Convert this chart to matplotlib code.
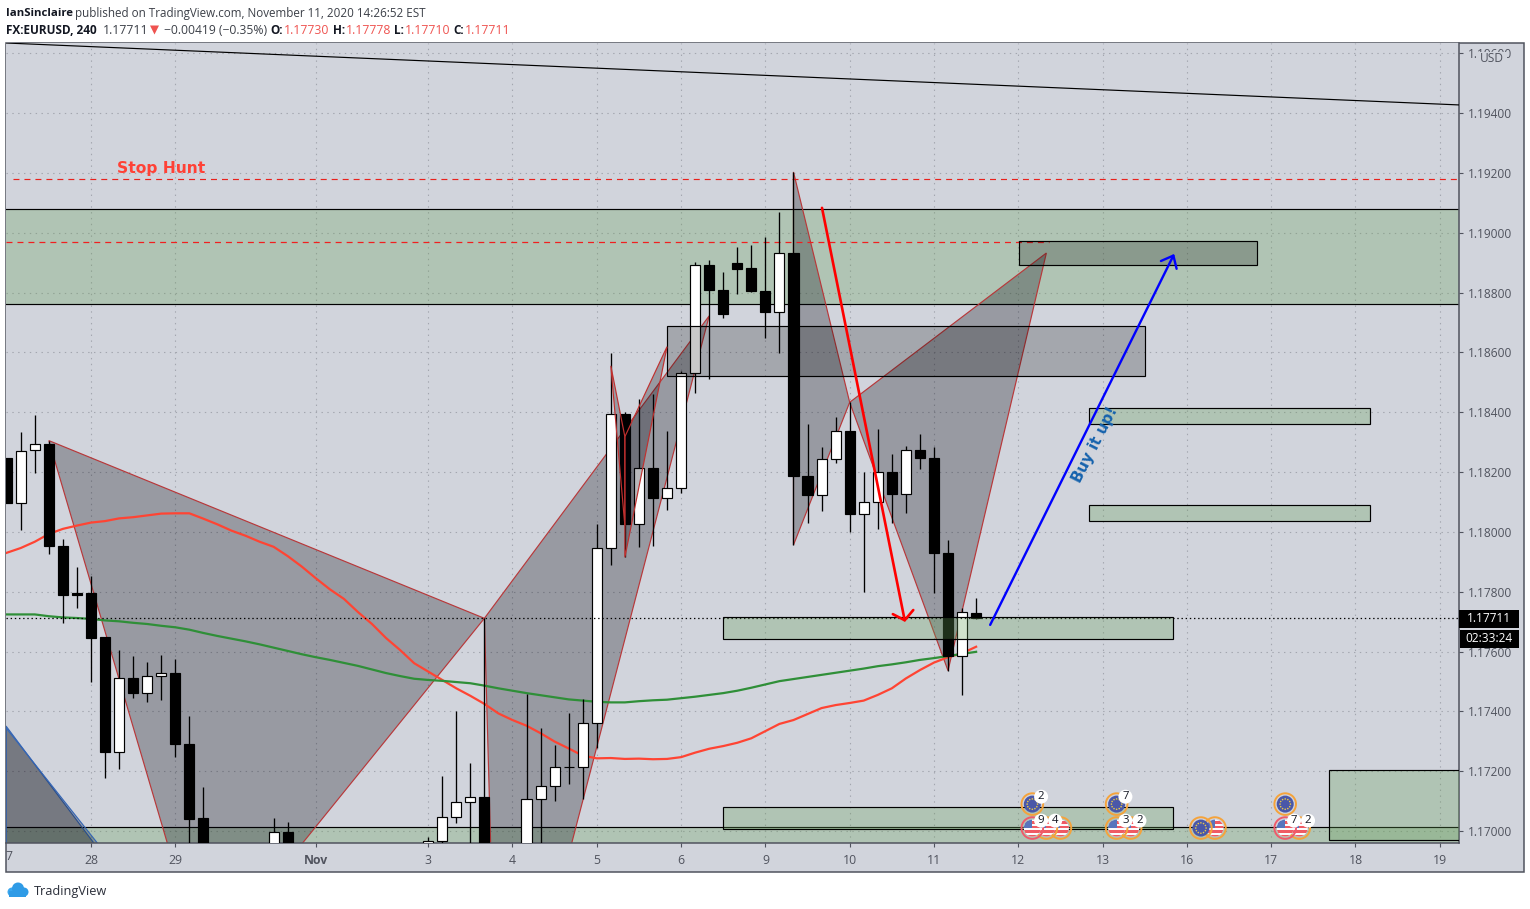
#coding: UTF-8
import numpy as np
import matplotlib as mpl
mpl.use('Agg')
import matplotlib.pyplot as plt
from matplotlib.patches import Rectangle, Polygon, Circle
from matplotlib.transforms import IdentityTransform

plt.rcParams['font.family'] = ['Open Sans', 'DejaVu Sans']
plt.rcParams['lines.scale_dashes'] = False

# candles, bar 0 is the start of Oct 28 (4h bars). bars under the chart floor are left out
bars = [-6,-5,-4,-3,-2,-1,0,1,2,3,4,5,6,7,8,13,14,24,25,26,27,28,31,32,33,34,35,36,37,38,39,40,41,42,43,44,45,46,47,48,49,50,51,52,53,54,55,56,57,58,59,60,61,62,63]
opens = [1.18247,1.18096,1.18272,1.18293,1.17954,1.17796,1.17795,1.17649,1.17265,1.1751,1.17462,1.17517,1.17527,1.17292,1.17043,1.1685,1.16996,1.1685,1.16968,1.17046,1.17096,1.17113,1.1680,1.17106,1.17149,1.17213,1.17214,1.1736,1.17945,1.18393,1.18027,1.18212,1.18114,1.18146,1.1853,1.18892,1.1881,1.18899,1.18882,1.18806,1.18736,1.18931,1.18188,1.18124,1.18243,1.18337,1.18061,1.18099,1.18199,1.18128,1.18273,1.18248,1.1793,1.17586,1.1773]
highs = [1.18247,1.18333,1.18391,1.18305,1.17975,1.17882,1.17852,1.17649,1.17605,1.17585,1.17565,1.17588,1.17575,1.17384,1.17147,1.17043,1.1703,1.16979,1.17184,1.17401,1.17227,1.17711,1.17458,1.17344,1.17287,1.17394,1.1744,1.18026,1.18598,1.184,1.18444,1.18461,1.18337,1.18538,1.18901,1.18909,1.18869,1.18951,1.18959,1.18985,1.19069,1.19203,1.18361,1.18283,1.18384,1.18433,1.18199,1.18344,1.1826,1.18287,1.18327,1.18284,1.17973,1.17745,1.17778]
lows = [1.18096,1.18006,1.18198,1.17926,1.17696,1.17746,1.17499,1.17178,1.17208,1.17446,1.17432,1.17438,1.17248,1.169,1.168,1.168,1.168,1.168,1.169,1.17028,1.169,1.1675,1.1675,1.169,1.17101,1.17158,1.17108,1.17277,1.1789,1.17915,1.1795,1.17954,1.18073,1.18131,1.18465,1.18512,1.18716,1.18796,1.18803,1.18649,1.18599,1.17956,1.18031,1.18071,1.18231,1.18001,1.17799,1.1801,1.18031,1.18064,1.18211,1.17797,1.17536,1.17455,1.1771]
closes = [1.18096,1.18271,1.18293,1.17954,1.1779,1.1779,1.17646,1.17265,1.1751,1.17462,1.17517,1.17527,1.17292,1.17041,1.1685,1.16996,1.1685,1.16968,1.17046,1.17096,1.17113,1.168,1.17106,1.17149,1.17213,1.17214,1.1736,1.17945,1.18393,1.18027,1.18212,1.18114,1.18146,1.1853,1.18892,1.1881,1.18729,1.1888,1.18806,1.18736,1.18931,1.18188,1.18124,1.18243,1.18336,1.18061,1.18099,1.18199,1.18128,1.18273,1.18248,1.1793,1.17586,1.17731,1.17711]

# moving averages, one value per bar from bar -6 to bar 63
ma_bars = list(range(-6, 64))
ma_red = [1.1793,1.17946,1.17967,1.17993,1.1801,1.18021,1.18031,1.18036,1.18045,1.18049,1.18055,1.18061,1.18062,1.18062,1.18044,1.18025,1.18004,1.17987,1.17967,1.1795,1.17919,1.17884,1.17845,1.17808,1.17776,1.17732,1.17692,1.17645,1.17605,1.17561,1.17533,1.17505,1.17477,1.17452,1.17425,1.17393,1.17371,1.17352,1.17327,1.17299,1.17276,1.17252,1.17243,1.17244,1.17241,1.17242,1.1724,1.17241,1.17247,1.17262,1.17275,1.17284,1.17295,1.1731,1.17334,1.17358,1.17371,1.17391,1.17411,1.17421,1.17428,1.17436,1.17455,1.17477,1.1751,1.17538,1.17563,1.17581,1.17594,1.17616]
ma_green = [1.17724,1.17724,1.17724,1.17718,1.17714,1.17712,1.17709,1.17704,1.17701,1.17696,1.17692,1.17686,1.17681,1.17673,1.17662,1.17652,1.17643,1.17634,1.17624,1.17613,1.17602,1.17591,1.17581,1.17572,1.17562,1.17552,1.1754,1.17528,1.17518,1.17509,1.17505,1.17502,1.17498,1.17494,1.17486,1.17477,1.17469,1.17461,1.17454,1.17447,1.1744,1.17436,1.17432,1.1743,1.1743,1.17434,1.17437,1.17439,1.17444,1.17449,1.17455,1.17461,1.17469,1.17479,1.1749,1.17501,1.17508,1.17515,1.17522,1.17529,1.17536,1.17543,1.17551,1.17557,1.17564,1.17572,1.17578,1.17585,1.17592,1.17599]

# harmonic patterns (bar, price)
left_pattern = [[(-3,1.18305),(8,1.1655),(28,1.17711)]]
mid_pattern = [[(28,1.17711),(29,1.1602),(44,1.18722)]]
thin_pattern = [[(37,1.18555),(38,1.1802),(38,1.18318)],[(38,1.18318),(41,1.18619),(38,1.17915)]]
right_pattern = [[(50,1.19203),(50,1.17956),(54,1.18433)],[(54,1.18433),(61,1.17536),(68,1.18932)]]
blue_pattern = [[(-6.05,1.17351),(0.2,1.1696),(-6.05,1.1690)],[(-6.05,1.17345),(0.45,1.1696),(-6.05,1.1690)]]

# zones: bar start, bar end, price low, price high
green_zones = [(-10,110,1.18762,1.19079),(-10,110,1.1690,1.17013),(71,91,1.18361,1.18414),(71,91,1.18036,1.1809),(45,77,1.17642,1.17715),(45,77,1.17007,1.1708),(88.1,110,1.1697,1.17204)]
grey_zones = [(41,75,1.1852,1.18687),(66.05,83,1.18892,1.18972)]

trend_x = [-6.05, 97.37]
trend_y = [1.19634, 1.19427]
stop_level = 1.1918
red_level = 1.18969
last_price = 1.17711

# events: bar, price row, kind, count, ring colour
events = [(67,1.1709,'eu','2','#f5a33b'),(67,1.1701,'us','9','#ef5b6b'),(68,1.1701,'us','4','#f5a33b'),(69,1.1701,'us','','#f5a33b'),
          (73,1.1709,'eu','7','#f5a33b'),(73,1.1701,'us','3','#f5a33b'),(74,1.1701,'us','2','#f5a33b'),
          (79,1.1701,'eu','','#f5a33b'),(80,1.1701,'us','','#f5a33b'),
          (85,1.1709,'eu','','#f5a33b'),(85,1.1701,'us','7','#ef5b6b'),(86,1.1701,'us','2','#f5a33b')]

day_ticks = [0,6,16,24,30,36,42,48,54,60,66,72,78,84,90,96]
day_labels = ['28','29','Nov','3','4','5','6','9','10','11','12','13','16','17','18','19']
price_ticks = [1.17,1.172,1.174,1.176,1.178,1.18,1.182,1.184,1.186,1.188,1.19,1.192,1.194,1.196]

BG = '#d1d4dc'
AXC = '#50535e'
W, H = 1530, 909

fig = plt.figure(figsize=(W/100, H/100), dpi=100, facecolor='white')

# chrome behind the chart
back = fig.add_axes([0,0,1,1], zorder=0)
back.set_xlim(0,W); back.set_ylim(H,0); back.axis('off')
back.add_patch(Rectangle((6,43),1518,829,facecolor=BG,edgecolor=AXC,linewidth=1.1))

ax = fig.add_axes([6/W, 1-843/H, (1459-6)/W, (843-43)/H], zorder=1)
ax.set_xlim(-6.05, 97.37)
ax.set_ylim(1.1696, 1.19634)
ax.set_facecolor(BG)
for side in ['top','left']:
    ax.spines[side].set_visible(False)
for side in ['right','bottom']:
    ax.spines[side].set_color(AXC)
    ax.spines[side].set_linewidth(1.1)

ax.yaxis.tick_right()
ax.set_yticks(price_ticks)
ax.set_yticklabels(['%.5f' % p for p in price_ticks])
ax.set_xticks(day_ticks)
ax.set_xticklabels(day_labels)
ax.tick_params(axis='both', colors=AXC, length=3, width=0.8, labelcolor=AXC)
ax.tick_params(axis='y', pad=3.5, labelsize=8.6)
ax.tick_params(axis='x', pad=5, labelsize=8.8)
for lab in ax.get_xticklabels():
    if lab.get_text() == 'Nov':
        lab.set_fontweight('bold')
ax.text(-5.85, 1.16938, '7', color=AXC, fontsize=8.8, va='top', ha='center', clip_on=False)
ax.grid(True, color='#a3a6af', linewidth=0.8, linestyle=(0,(1.0,3.2)))
ax.set_axisbelow(True)

def zone(z, face, zo):
    x0, x1, lo, hi = z
    ax.add_patch(Rectangle((x0,lo), x1-x0, hi-lo, facecolor=face, edgecolor='black', linewidth=0.85, zorder=zo))

def pattern(tris, edge, zo, alpha=0.28):
    for t in tris:
        ax.add_patch(Polygon(t, closed=True, facecolor=(0.02,0.02,0.06,alpha), edgecolor=edge, linewidth=0.85, zorder=zo))

green_face = mpl.colors.to_rgba('#669f58', 0.3)
grey_face = (0,0,0,0.21)

zone(green_zones[0], green_face, 1)
zone(green_zones[1], green_face, 1)
pattern(left_pattern, '#b8383a', 2)
pattern(mid_pattern, '#b8383a', 2)
pattern(right_pattern, '#b8383a', 2)
pattern(blue_pattern, '#3566b5', 2, 0.25)

ax.plot(ma_bars, ma_red, color='#ff4433', linewidth=1.6, zorder=3)
ax.plot(ma_bars, ma_green, color='#2f8f38', linewidth=1.6, zorder=3)

ax.plot(trend_x, trend_y, color='black', linewidth=0.85, zorder=3)
ax.plot([-5.55,97.37], [stop_level,stop_level], color='#e8211c', linewidth=0.85, linestyle=(0,(4.3,3.6)), zorder=3)
ax.plot([-6.05,68.2], [red_level,red_level], color='#f01f1f', linewidth=0.9, linestyle=(0,(4.3,3.6)), zorder=3)

# candles
o = np.array(opens); c = np.array(closes)
ax.vlines(bars, lows, highs, color='black', linewidth=0.95, zorder=4)
colors = ['white' if c[i] >= o[i] else 'black' for i in range(len(bars))]
ax.bar(bars, np.abs(c-o), bottom=np.minimum(o,c), width=0.72, color=colors, edgecolor='black', linewidth=0.85, zorder=5)

ax.axhline(last_price, color='black', linewidth=0.9, linestyle=(0,(1.0,2.0)), zorder=5.5)

for z in green_zones[2:]:
    zone(z, green_face, 6)
for z in grey_zones:
    zone(z, grey_face, 6)
pattern(thin_pattern, '#c0302f', 6.5)

ax.annotate('', xy=(57.94,1.17699), xytext=(52.03,1.19083), zorder=8,
            arrowprops=dict(arrowstyle='->,head_length=0.4,head_width=0.5', color='#ff0000', lw=1.9, shrinkA=0, shrinkB=0, mutation_scale=15))
ax.annotate('', xy=(77.1,1.18929), xytext=(64,1.17689), zorder=8,
            arrowprops=dict(arrowstyle='->,head_length=0.5,head_width=0.42', color='#0000ff', lw=1.7, shrinkA=0, shrinkB=0, mutation_scale=15))

ax.text(1.83, 1.19216, 'Stop Hunt', color='#ff4136', fontsize=11.2, fontweight='bold', family='DejaVu Sans', va='center', ha='left', zorder=8)
ax.text(71.45, 1.18293, 'Buy it up!', color='#1663ad', fontsize=10.8, fontweight='bold', family='DejaVu Sans', rotation=63, rotation_mode='anchor', va='center', ha='center', zorder=8)

# event icons, left ones on top
fig.canvas.draw()
dtrans = IdentityTransform()
def icon(bar, price, kind, count, ring, zo):
    cx, cy = ax.transData.transform((bar, price))
    disc = Circle((cx,cy), 8.5, transform=dtrans, facecolor='#fbfbfd', edgecolor='none', zorder=zo)
    fig.add_artist(disc)
    if kind == 'eu':
        disc.set_facecolor('#4a57a8')
        for a in np.linspace(0, 2*np.pi, 12, endpoint=False):
            fig.add_artist(Circle((cx+5.2*np.cos(a), cy+5.2*np.sin(a)), 0.8, transform=dtrans, facecolor='#e8c84a', edgecolor='none', zorder=zo))
    else:
        for k in range(4):
            s = Rectangle((cx-9, cy-9+k*4.4), 18, 2.4, transform=dtrans, facecolor='#ef5a63', edgecolor='none', zorder=zo)
            fig.add_artist(s); s.set_clip_path(disc)
        s = Rectangle((cx-9, cy), 9, 9, transform=dtrans, facecolor='#5874bd', edgecolor='none', zorder=zo)
        fig.add_artist(s); s.set_clip_path(disc)
    fig.add_artist(Circle((cx,cy), 10.8, transform=dtrans, facecolor='none', edgecolor=ring, linewidth=1.4, zorder=zo))
    if count:
        bx, by = cx+8.8, cy+7.4
        fig.add_artist(Circle((bx,by), 7, transform=dtrans, facecolor='white', edgecolor='none', zorder=zo))
        fig.text(bx/W, by/H, count, color='#131722', fontsize=8.2, ha='center', va='center', zorder=zo)

for n, e in enumerate(reversed(events)):
    icon(e[0], e[1], e[2], e[3], e[4], 10+n*0.1)

# chrome on top: price tags and header
top = fig.add_axes([0,0,1,1], zorder=5)
top.set_xlim(0,W); top.set_ylim(H,0); top.axis('off')
top.patch.set_alpha(0)
top.add_patch(Rectangle((1476,52),31,14,facecolor=BG,edgecolor='none'))
top.text(1491.5,59,'USD',color=AXC,fontsize=8.6,ha='center',va='center')
top.add_patch(Rectangle((1459,609.5),60,18.5,facecolor='black',edgecolor='none'))
top.add_patch(Rectangle((1460,629.5),59,18,facecolor='black',edgecolor='none'))
top.text(1489,619,'%.5f' % last_price,color='white',fontsize=8.6,ha='center',va='center')
top.text(1489,639,'02:33:24',color='white',fontsize=8.6,ha='center',va='center')

RED = '#ef5350'
INK = '#131722'
GRY = '#3c4048'
top.text(6,13,'IanSinclaire',color=INK,fontsize=8.2,fontweight='bold',va='center')
top.text(75,13,'published on TradingView.com, November 11, 2020 14:26:52 EST',color=GRY,fontsize=8.4,va='center')
top.text(6,30,'FX:EURUSD, 240',color=INK,fontsize=8.5,fontweight='bold',va='center')
top.text(103,30,'1.17711',color=GRY,fontsize=8.8,va='center')
top.add_patch(Polygon([(150,25.5),(159,25.5),(154.5,34.5)],closed=True,facecolor=RED,edgecolor='none'))
top.text(164,30,'\u22120.00419 (\u22120.35%)',color=GRY,fontsize=8.7,va='center')
for lx, lab, vx, val in [(270,'O:',284,'1.17730'),(333,'H:',346,'1.17778'),(394,'L:',405,'1.17710'),(453,'C:',465,'1.17711')]:
    top.text(lx,30,lab,color=INK,fontsize=8.5,fontweight='bold',va='center')
    top.text(vx,30,val,color=RED,fontsize=8.8,va='center')

# TradingView mark
for cx, cy, r, col in [(12,892,4.5,'#3ba7ee'),(18,888.5,6,'#2f9be6'),(24,892,4.5,'#2f9be6')]:
    top.add_patch(Circle((cx,cy),r,facecolor=col,edgecolor='none'))
top.add_patch(Rectangle((9,891),17,5.5,facecolor='#2f9be6',edgecolor='none'))
top.text(34,891,'TradingView',color='#2a2e39',fontsize=9.2,va='center')

plt.savefig('out.png', dpi=100, facecolor='white')
